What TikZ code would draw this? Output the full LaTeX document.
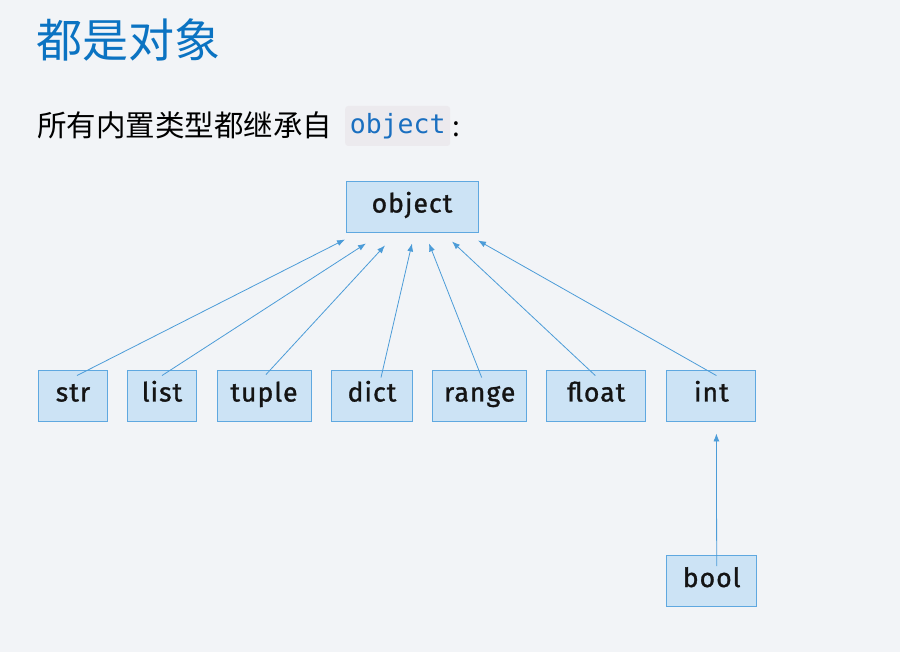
\documentclass[tikz,border=0pt]{standalone}
\usepackage{fontspec}
\setmainfont{Fira Sans}
\newfontfamily\boxf[LetterSpace=4,FakeBold=1.2]{Fira Sans}
\newfontfamily\cjkf{Noto Sans CJK SC}
\newfontfamily\codef{DejaVu Sans Mono}
\definecolor{bgc}{HTML}{F2F4F7}
\definecolor{boxfill}{HTML}{CCE3F5}
\definecolor{boxline}{HTML}{5FA8E0}
\definecolor{arrc}{HTML}{4C9CD8}
\definecolor{titlec}{HTML}{0B73C2}
\definecolor{codebg}{HTML}{ECEAEE}
\definecolor{codec}{HTML}{1A6FC0}
\usetikzlibrary{arrows.meta}
\begin{document}
\begin{tikzpicture}[x=1pt,y=-1pt,
  tbox/.style={draw=boxline, line width=0.9pt, fill=boxfill, minimum height=51pt, inner sep=0pt,
    font=\boxf\fontsize{26.5}{26.5}\selectfont, text=black!92, text height=18pt, text depth=6pt},
  inh/.style={draw=arrc, line width=0.8pt, -{Latex[length=8pt,width=6pt]}}]
\useasboundingbox[fill=bgc] (0,0) rectangle (900,652);
\node[anchor=base west, text=titlec, font=\cjkf\fontsize{46}{46}\selectfont, inner sep=0pt] (title) at (36,58) {都是对象};
\node[anchor=base west, text=black, font=\cjkf\fontsize{29.5}{29.5}\selectfont, inner sep=0pt] (sub) at (37,137) {所有内置类型都继承自};
\node[anchor=west, fill=codebg, rounded corners=3pt, minimum height=40pt, minimum width=105pt, inner sep=0pt,
  text=codec, font=\codef\fontsize{26.5}{26.5}\selectfont, text height=19pt, text depth=4pt] (code) at (345,126) {object};
\node[anchor=base west, inner sep=0pt, font=\cjkf\fontsize{28}{28}\selectfont] (colon) at (452,137) {:};
\node[tbox, minimum width=132pt] (object) at (412,206.5) {object};
\node[tbox, minimum width=69pt] (str) at (73,395.5) {str};
\node[tbox, minimum width=69pt] (list) at (162,395.5) {list};
\node[tbox, minimum width=94pt] (tuple) at (264,395.5) {tuple};
\node[tbox, minimum width=81pt] (dict) at (372,395.5) {dict};
\node[tbox, minimum width=94pt] (range) at (479.7,395.5) {range};
\node[tbox, minimum width=99pt] (float) at (596.3,395.5) {float};
\node[tbox, minimum width=89pt] (int) at (711.4,395.5) {int};
\node[tbox, minimum width=90pt] (bool) at (711.7,581) {bool};
\draw[inh] ([xshift=4pt,yshift=-6pt]str.north) -- ([xshift=-67pt,yshift=-7pt]object.south);
\draw[inh] ([xshift=0pt,yshift=-6pt]list.north) -- ([xshift=-46pt,yshift=-11pt]object.south);
\draw[inh] ([xshift=2pt,yshift=-5pt]tuple.north) -- ([xshift=-27pt,yshift=-13pt]object.south);
\draw[inh] ([xshift=9pt,yshift=-8pt]dict.north) -- ([xshift=0pt,yshift=-11pt]object.south);
\draw[inh] ([xshift=2pt,yshift=-8pt]range.north) -- ([xshift=17pt,yshift=-11pt]object.south);
\draw[inh] ([xshift=-1pt,yshift=-6pt]float.north) -- ([xshift=40pt,yshift=-9pt]object.south);
\draw[inh] ([xshift=5pt,yshift=-6pt]int.north) -- ([xshift=66pt,yshift=-8pt]object.south);
\draw[inh] ([xshift=5pt,yshift=-11pt]bool.north) -- ([xshift=5pt,yshift=-12pt]int.south);
\end{tikzpicture}
\end{document}
